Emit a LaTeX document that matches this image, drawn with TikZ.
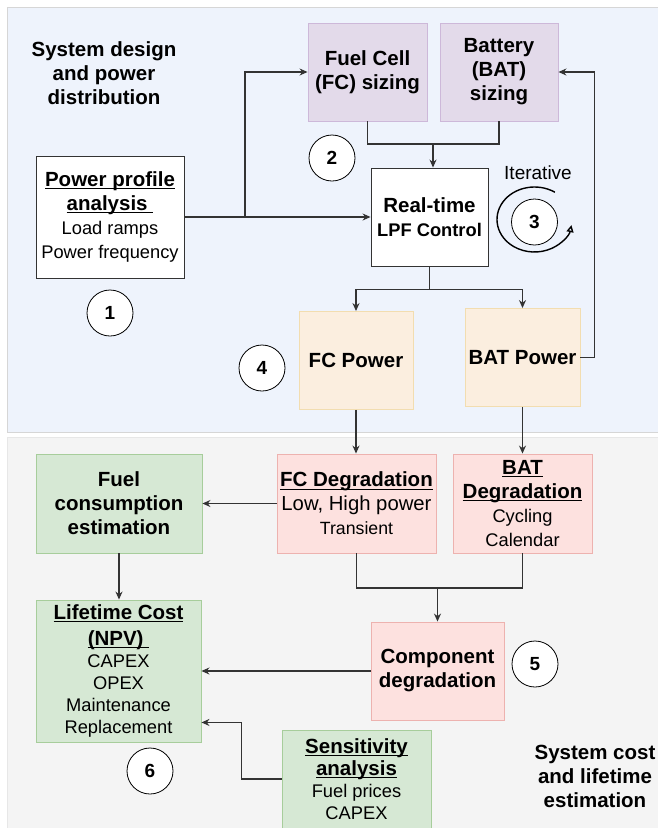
\documentclass[tikz,border=0pt]{standalone}
\usepackage{fontspec}
\setmainfont{Liberation Sans}
\usepackage{xcolor}
\usetikzlibrary{positioning, arrows.meta, calc}

\definecolor{panelblue}{HTML}{EEF3FC}
\definecolor{panelgray}{HTML}{F4F4F4}
\definecolor{panelline}{HTML}{D6D6D6}
\definecolor{sizefill}{HTML}{E3DAEA}
\definecolor{sizeline}{HTML}{CDB8D9}
\definecolor{powfill}{HTML}{FBEEDF}
\definecolor{powline}{HTML}{F2DDB0}
\definecolor{degfill}{HTML}{FDE1DF}
\definecolor{degline}{HTML}{EDB2AF}
\definecolor{costfill}{HTML}{D6E8D4}
\definecolor{costline}{HTML}{A7CD9B}
\definecolor{wirecol}{HTML}{333333}

\newcommand{\bfs}{\fontsize{20.5}{24}\selectfont\bfseries}
\newcommand{\rgs}{\fontsize{18.3}{24}\selectfont\mdseries}
\newsavebox{\ulbox}
\newcommand{\undl}[1]{\sbox{\ulbox}{#1}\rlap{\rule[-2.8pt]{\wd\ulbox}{0.95pt}}\usebox{\ulbox}}

\begin{document}
\begin{tikzpicture}[x=1pt, y=1pt,
    box/.style={draw=wirecol, fill=white, line width=0.9pt, align=center, inner sep=0pt, font=\bfs},
    sizebox/.style={box, draw=sizeline, fill=sizefill, minimum width=119, minimum height=98},
    powbox/.style={box, draw=powline, fill=powfill, minimum width=115, minimum height=98},
    degbox/.style={box, draw=degline, fill=degfill, minimum height=99},
    costbox/.style={box, draw=costline, fill=costfill},
    num/.style={circle, draw=black, fill=white, line width=0.8pt, minimum size=46, inner sep=0pt, font=\fontsize{19}{19}\selectfont\bfseries},
    link/.style={draw=wirecol, line width=1.2pt},
    arr/.style={link, -{Stealth[length=8pt, width=7pt]}}
]
        \useasboundingbox (0,0) rectangle (658,-828);

        % Panels
        \draw[panelline, fill=panelblue] (7,-7) rectangle (672,-432);
        \draw[panelline!60, fill=panelgray] (7,-437) rectangle (672,-840);
        \node[font=\bfs, align=center] (toptitle) at (104,-73) {System design\\and power\\distribution};
        \node[font=\bfs, align=center] (bottitle) at (595,-776) {System cost\\and lifetime\\estimation};

        % Sizing and control
        \node[box, minimum width=148, minimum height=122] (pp) at (110,-217)
            {\bfs\undl{Power profile}\\\bfs\undl{analysis\ }\\\rgs Load ramps\\\rgs Power frequency};
        \node[sizebox] (fcs) at (367.5,-72) {Fuel Cell\\(FC) sizing};
        \node[sizebox, minimum width=118] (bats) at (499,-72) {Battery\\(BAT)\\sizing};
        \node[box, minimum width=117, minimum height=98] (rt) at (429.5,-217)
            {\bfs Real-time\\\fontsize{18.3}{24}\selectfont LPF Control};
        \node[powbox, minimum width=114] (fcp) at (356,-360.5) {FC Power};
        \node[powbox] (batp) at (522.5,-357.5) {BAT Power};

        % Degradation and cost
        \node[costbox, minimum width=166, minimum height=99] (fuel) at (119,-503.5) {Fuel\\consumption\\estimation};
        \node[degbox, minimum width=159] (fcd) at (356.5,-503.5)
            {\bfs\undl{FC Degradation}\\\fontsize{20.3}{24}\selectfont\mdseries Low, High power\\\fontsize{17.7}{24}\selectfont\mdseries Transient};
        \node[degbox, minimum width=139] (batd) at (522.5,-503.5)
            {\bfs\undl{BAT}\\\bfs\undl{Degradation}\\\rgs Cycling\\\rgs Calendar};
        \node[costbox, minimum width=165, minimum height=142, font=\fontsize{20.5}{22}\selectfont\bfseries] (life) at (118.5,-671)
            {\bfs\undl{Lifetime Cost}\\[4pt]\bfs\undl{(NPV)\ }\\\rgs CAPEX\\\rgs OPEX\\\rgs Maintenance\\\rgs Replacement};
        \node[degbox, minimum width=133, minimum height=98] (comp) at (437.5,-671) {Component\\degradation};
        \node[costbox, minimum width=149, minimum height=98, font=\fontsize{20.5}{22}\selectfont\bfseries] (sens) at (356.5,-779)
            {\bfs\undl{Sensitivity}\\\bfs\undl{analysis}\\\rgs Fuel prices\\\rgs CAPEX};

        % Step numbers
        \node[num] (c1) at (110,-313) {1};
        \node[num] (c2) at (332,-158) {2};
        \node[num] (c3) at (534.5,-222) {3};
        \node[num] (c4) at (262,-368) {4};
        \node[num] (c5) at (535,-664) {5};
        \node[num] (c6) at (150,-771) {6};
        \node[font=\fontsize{19}{19}\selectfont] (iter) at (538,-173) {Iterative};
        \draw[line width=1.4pt, -{Triangle[open, length=7pt, width=7pt]}]
            ($(534.5,-219.5)+(57:37.5 and 32.5)$) arc[start angle=57, end angle=350, x radius=37.5, y radius=32.5];

        % Connectors
        \draw[arr] (pp.east) -- (rt.west);
        \coordinate (split) at (245,-217);
        \draw[arr] (split) |- (fcs.west);
        \coordinate (join1) at (433,-144);
        \draw[link] (fcs.south) |- (join1) -| (bats.south);
        \draw[arr] (join1) -- (join1 |- rt.north);
        \draw[arr] (rt.south) -- ++(0,-23) -| (fcp.north);
        \draw[arr] (rt.south) -- ++(0,-23) -| (batp.north);
        \draw[arr] (batp.east) -- ++(14,0) |- (bats.east);
        \draw[arr] (fcp.south) -- (fcp.south |- fcd.north);
        \draw[arr] (batp.south) -- (batd.north);
        \draw[arr] (fcd.west) -- (fuel.east);
        \draw[arr] (fuel.south) -- (fuel.south |- life.north);
        \coordinate (join2) at (437.5,-588);
        \draw[link] (fcd.south) |- (join2) -| (batd.south);
        \draw[arr] (join2) -- (comp.north);
        \draw[arr] (comp.west) -- (comp.west -| life.east);
        \draw[arr] (sens.west) -- ++(-40,0) |- ($(life.south east)+(0,20)$);
\end{tikzpicture}
\end{document}
